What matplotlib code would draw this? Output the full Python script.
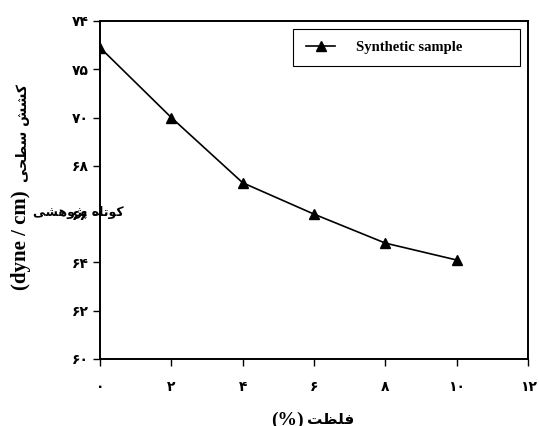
import matplotlib
matplotlib.use('Agg')
import matplotlib.pyplot as plt
from matplotlib.patches import Rectangle

# داده‌ها (concentration % vs surface tension)
concentration = [0, 2, 4, 6, 8, 10]
surface_tension = [72.9, 70.0, 67.3, 66.0, 64.8, 64.1]

x_ticks = [0, 2, 4, 6, 8, 10, 12]
x_tick_labels = ['۰', '۲', '۴', '۶', '۸', '۱۰', '۱۲']
y_ticks = [60, 62, 64, 66, 68, 70, 72, 74]
y_tick_labels = ['۶۰', '۶۲', '۶۴', '۶۶', '۶۸', '۷۰', '۷۵', '۷۴']

series_label = 'Synthetic sample'

# Persian words pre-shaped (presentation forms, visual order)
y_label_fa = '\uFBFD\uFEA4\uFEC4\uFEB3 \uFEB6\uFEB8\uFB90'        # کشش سطحی
x_label_fa = '\uFE96\uFEC8\uFEE0\uFED3'                            # غلظت
overlay_fa = '\uFBFD\uFEB8\uFEEB\uFEED\uFB8B\uFB58 \uFEE9\uFE8E\uFE97\uFEEE\uFB90'  # کوتاه پژوهشی

fig = plt.figure(figsize=(5.39, 4.26), dpi=100)
ax = fig.add_axes([100 / 539, 1 - 359 / 426, 428 / 539, 338 / 426])
ax.patch.set_alpha(0)

ax.plot(concentration, surface_tension, color='black', linewidth=1.2,
        marker='^', markersize=7, label=series_label)

ax.set_xlim(0, 12)
ax.set_ylim(60, 74)
ax.set_xticks(x_ticks)
ax.set_xticklabels(x_tick_labels, fontfamily='DejaVu Sans', fontweight='bold', fontsize=10)
ax.set_yticks(y_ticks)
ax.set_yticklabels(y_tick_labels, fontfamily='DejaVu Sans', fontweight='bold', fontsize=10)
ax.tick_params(axis='x', direction='out', length=5, width=1, pad=10)
ax.tick_params(axis='y', direction='out', length=5, width=1, pad=3)
for s in ax.spines.values():
    s.set_linewidth(1.4)

# legend box (wide frame like the original)
ax.add_patch(Rectangle((0.451, 0.867), 0.530, 0.109, transform=ax.transAxes,
                       fill=False, edgecolor='black', linewidth=0.8, zorder=4))
ax.legend(loc='center left', bbox_to_anchor=(0.451, 0.9215), frameon=False,
          prop={'family': 'Liberation Serif', 'weight': 'bold', 'size': 10.5},
          handlelength=2.0, borderpad=0.0, handletextpad=1.4, borderaxespad=0.9)

# y label: serif units + Persian words, rotated
fig.text(21 / 539, 1 - 240 / 426, '(dyne / cm)', rotation=90,
         ha='center', va='center', fontsize=15, fontweight='bold',
         family='Liberation Serif')
fig.text(23 / 539, 1 - 133 / 426, y_label_fa, rotation=90,
         ha='center', va='center', fontsize=10, fontweight='bold',
         family='DejaVu Sans')

# overlapping horizontal text near the y axis (drawn under the axes)
fig.text(78 / 539, 1 - 212 / 426, overlay_fa, ha='center', va='center',
         fontsize=9, fontweight='bold', family='DejaVu Sans', zorder=-1)

# x label, cut off at bottom edge
fig.text(304 / 539, 1 - 412 / 426, '(%)', ha='right', va='top',
         fontsize=14, fontweight='bold', family='Liberation Serif')
fig.text(307 / 539, 1 - 412 / 426, x_label_fa, ha='left', va='top',
         fontsize=11, fontweight='bold', family='DejaVu Sans')

fig.savefig('out.png', dpi=100)
